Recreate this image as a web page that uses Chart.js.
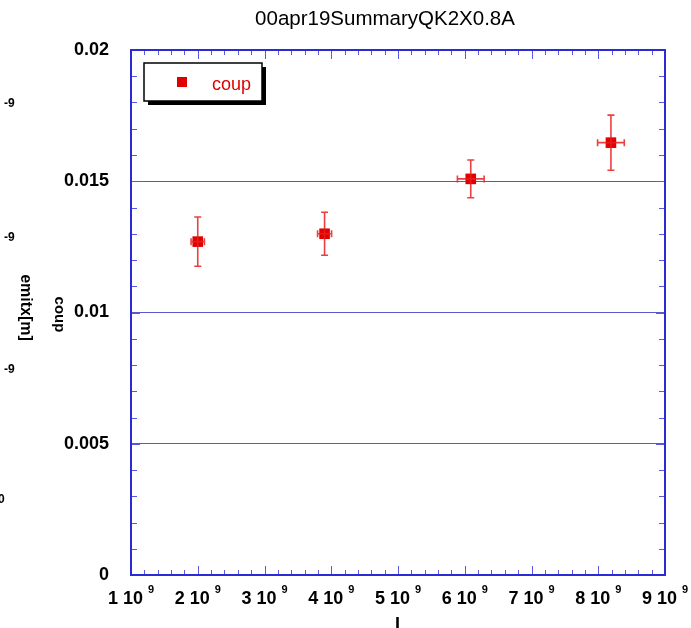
<!DOCTYPE html>
<html>
<head>
<meta charset="utf-8">
<script src="https://cdn.jsdelivr.net/npm/chart.js@4.4.1/dist/chart.umd.min.js"></script>
<style>
  body { margin: 0; background: #fff; }
  canvas { display: block; }
</style>
</head>
<body>
<canvas id="chart" width="691" height="628"></canvas>
<script>
const title = '00apr19SummaryQK2X0.8A';
const seriesName = 'coup';
const currents = [2.0e9, 3.9e9, 6.09e9, 8.19e9];
const currentErr = [0.1e9, 0.105e9, 0.2e9, 0.2e9];
const coupValues = [0.0127, 0.0130, 0.01509, 0.01647];
const coupErr = [0.00094, 0.00082, 0.00072, 0.00105];
const xTickMantissas = ['1', '2', '3', '4', '5', '6', '7', '8', '9'];
const xTickExponent = '9';
const yTickLabels = ['0', '0.005', '0.01', '0.015', '0.02'];

const FONT = '"Liberation Sans", Arial, Helvetica, sans-serif';
const BLUE = '#2a2ad6';
const TICKBLUE = '#5a5ae0';
const RED = '#e00000';

const errorBars = {
    id: 'errorBars',
    afterDatasetsDraw(chart) {
        const ctx = chart.ctx;
        const xs = chart.scales.x, ys = chart.scales.y;
        ctx.save();
        ctx.strokeStyle = 'rgba(230,30,30,0.85)';
        ctx.lineWidth = 1.6;
        currents.forEach((cx, i) => {
            const px = xs.getPixelForValue(cx);
            const py = ys.getPixelForValue(coupValues[i]);
            const yTop = ys.getPixelForValue(coupValues[i] + coupErr[i]);
            const yBot = ys.getPixelForValue(coupValues[i] - coupErr[i]);
            const xL = xs.getPixelForValue(cx - currentErr[i]);
            const xR = xs.getPixelForValue(cx + currentErr[i]);
            ctx.beginPath();
            ctx.moveTo(px, yTop); ctx.lineTo(px, yBot);
            ctx.moveTo(px - 3.5, yTop); ctx.lineTo(px + 3.5, yTop);
            ctx.moveTo(px - 3.5, yBot); ctx.lineTo(px + 3.5, yBot);
            ctx.moveTo(xL, py); ctx.lineTo(xR, py);
            ctx.moveTo(xL, py - 3.5); ctx.lineTo(xL, py + 3.5);
            ctx.moveTo(xR, py - 3.5); ctx.lineTo(xR, py + 3.5);
            ctx.stroke();
        });
        ctx.restore();
    }
};

const frameAndText = {
    id: 'frameAndText',
    afterDraw(chart) {
        const ctx = chart.ctx;
        const a = chart.chartArea;
        const xs = chart.scales.x, ys = chart.scales.y;
        ctx.save();

        // tick marks on all four sides
        ctx.strokeStyle = TICKBLUE;
        ctx.lineWidth = 1;
        ctx.beginPath();
        for (let k = 0; k <= 40; k++) {
            const v = 1e9 + k * 0.2e9;
            const px = Math.round(xs.getPixelForValue(v)) + 0.5;
            const len = k % 5 === 0 ? 9 : 5;
            ctx.moveTo(px, a.bottom); ctx.lineTo(px, a.bottom - len);
            ctx.moveTo(px, a.top); ctx.lineTo(px, a.top + len);
        }
        for (let k = 0; k <= 20; k++) {
            const v = k * 0.001;
            const py = Math.round(ys.getPixelForValue(v)) + 0.5;
            const len = k % 5 === 0 ? 9 : 6;
            ctx.moveTo(a.left, py); ctx.lineTo(a.left + len, py);
            ctx.moveTo(a.right, py); ctx.lineTo(a.right - len, py);
        }
        ctx.stroke();

        // frame
        ctx.strokeStyle = BLUE;
        ctx.lineWidth = 2;
        ctx.strokeRect(a.left, a.top, a.right - a.left, a.bottom - a.top);

        // x tick labels with exponent
        ctx.fillStyle = '#000';
        ctx.textBaseline = 'alphabetic';
        ctx.textAlign = 'left';
        xTickMantissas.forEach((m, i) => {
            const main = m + ' 10';
            ctx.font = 'bold 18px ' + FONT;
            const mw = ctx.measureText(main).width;
            ctx.font = 'bold 11px ' + FONT;
            const sw = ctx.measureText(xTickExponent).width;
            const total = mw + 5 + sw;
            const px = xs.getPixelForValue(1e9 + i * 1e9);
            const x0 = px - total / 2;
            ctx.font = 'bold 18px ' + FONT;
            ctx.fillText(main, x0, 604);
            ctx.font = 'bold 11px ' + FONT;
            ctx.fillText(xTickExponent, x0 + mw + 5, 593);
        });

        // x axis title (cut at the bottom)
        ctx.font = 'bold 18px ' + FONT;
        ctx.textAlign = 'center';
        ctx.fillText('I', 397.5, 630);

        // title
        ctx.font = '20.5px ' + FONT;
        ctx.fillText(title, 385, 25);

        // leftover labels of a second axis
        ctx.font = 'bold 12px ' + FONT;
        ctx.textAlign = 'left';
        ctx.textBaseline = 'middle';
        [104, 238, 370].forEach(y => ctx.fillText('-9', 4, y));
        ctx.fillText('0', -2, 500);

        // rotated axis titles
        ctx.save();
        ctx.translate(25.5, 307.5);
        ctx.rotate(Math.PI / 2);
        ctx.textAlign = 'center';
        ctx.font = 'bold 16px ' + FONT;
        ctx.fillText('emitx[m]', 0, 0);
        ctx.restore();
        ctx.save();
        ctx.translate(59.5, 314.5);
        ctx.rotate(Math.PI / 2);
        ctx.textAlign = 'center';
        ctx.font = 'bold 15px ' + FONT;
        ctx.fillText(seriesName, 0, 0);
        ctx.restore();

        // legend box with shadow
        const lx = 144, ly = 63, lw = 118, lh = 38;
        ctx.fillStyle = '#000';
        ctx.fillRect(lx + 4, ly + 4, lw, lh);
        ctx.fillStyle = '#fff';
        ctx.fillRect(lx, ly, lw, lh);
        ctx.strokeStyle = '#000';
        ctx.lineWidth = 1.5;
        ctx.strokeRect(lx, ly, lw, lh);
        ctx.fillStyle = RED;
        ctx.fillRect(177, 77, 10, 10);
        ctx.font = '18px ' + FONT;
        ctx.textBaseline = 'alphabetic';
        ctx.fillText(seriesName, 212, 90);

        ctx.restore();
    }
};

const ctxChart = document.getElementById('chart').getContext('2d');
const myChart = new Chart(ctxChart, {
    type: 'scatter',
    data: {
        datasets: [{
            label: seriesName,
            data: currents.map((x, i) => ({ x: x, y: coupValues[i] })),
            pointStyle: 'rect',
            pointRadius: 7.5,
            pointHoverRadius: 7.5,
            backgroundColor: RED,
            borderColor: RED,
            borderWidth: 0
        }]
    },
    options: {
        responsive: false,
        animation: false,
        devicePixelRatio: 1,
        layout: { padding: { left: 0, top: 50, right: 26, bottom: 0 } },
        plugins: {
            legend: { display: false },
            title: { display: false },
            tooltip: { enabled: false }
        },
        scales: {
            x: {
                type: 'linear',
                min: 1e9,
                max: 9e9,
                ticks: { display: false, stepSize: 1e9 },
                grid: { display: false },
                border: { display: false },
                afterFit: s => { s.height = 53; }
            },
            y: {
                min: 0,
                max: 0.02,
                ticks: {
                    stepSize: 0.005,
                    padding: 22,
                    color: '#000',
                    font: { family: FONT, size: 18, weight: 'bold' },
                    callback: (v, i) => yTickLabels[i]
                },
                grid: {
                    drawTicks: false,
                    lineWidth: 1,
                    color: c => (c.index === 0 || c.index === yTickLabels.length - 1) ? 'rgba(0,0,0,0)' : '#5858cc'
                },
                border: { display: false },
                afterFit: s => { s.width = 131; }
            }
        }
    },
    plugins: [errorBars, frameAndText]
});
</script>
</body>
</html>
